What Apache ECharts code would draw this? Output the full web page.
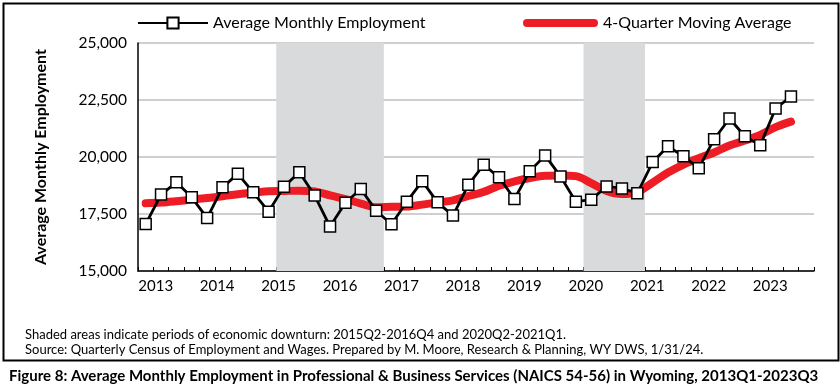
<!DOCTYPE html>
<html>
<head>
<meta charset="utf-8">
<script src="https://cdn.jsdelivr.net/npm/echarts@6/dist/echarts.min.js"></script>
<style>
html,body{margin:0;padding:0;background:#fff;}
#c{width:840px;height:385px;}
</style>
</head>
<body>
<div id="c"></div>
<script>
// ---- data ----
var years = ['2013','2014','2015','2016','2017','2018','2019','2020','2021','2022','2023'];
var quarters = ['Q1','Q2','Q3','Q4'];
var employment = [
  17060, 18350, 18890, 18230,
  17320, 18670, 19260, 18450,
  17600, 18700, 19330, 18310,
  16950, 17990, 18600, 17640,
  17050, 18040, 18940, 18010,
  17430, 18780, 19660, 19110,
  18160, 19380, 20070, 19150,
  18040, 18130, 18710, 18620,
  18410, 19780, 20470, 20030,
  19510, 20780, 21690, 20910,
  20510, 22130, 22650
];
var movingAvg = [
  17970, 18000, 18060, 18130,
  18200, 18280, 18370, 18430,
  18500, 18510, 18520, 18490,
  18320, 18150, 17960, 17800,
  17820, 17830, 17910, 18010,
  18100, 18290, 18470, 18740,
  18930, 19080, 19180, 19190,
  19160, 18850, 18510, 18380,
  18470, 18880, 19320, 19670,
  19950, 20200, 20500, 20720,
  20970, 21310, 21550
];
var downturns = [['2015Q2','2016Q4'], ['2020Q2','2021Q1']];
var yTicks = [15000, 17500, 20000, 22500, 25000];
var seriesNames = ['Average Monthly Employment', '4-Quarter Moving Average'];
var yAxisTitle = 'Average Monthly Employment';
var noteLines = [
  'Shaded areas indicate periods of economic downturn: 2015Q2-2016Q4 and 2020Q2-2021Q1.',
  'Source: Quarterly Census of Employment and Wages. Prepared by M. Moore, Research & Planning, WY DWS, 1/31/24.'
];
var figureTitle = 'Figure 8: Average Monthly Employment in Professional & Business Services (NAICS 54-56) in Wyoming, 2013Q1-2023Q3';

// ---- build ----
var categories = [];
years.forEach(function(y){ quarters.forEach(function(q){ categories.push(y + q); }); });
// shaded bands expressed in category-band units on a hidden linear axis
var bands = downturns.map(function(d){
  return [{xAxis: categories.indexOf(d[0])}, {xAxis: categories.indexOf(d[1]) + 1}];
});

var FONT = 'Lato';
var GRAY = '#d9dadc';
var RED = '#ee1c24';
var chart = echarts.init(document.getElementById('c'), null, {renderer:'canvas'});
chart.setOption({
  animation: false,
  backgroundColor: '#fff',
  textStyle: {fontFamily: FONT},
  grid: {left: 138, right: 26, top: 43, bottom: 114, containLabel: false},
  legend: [
    {left: 132, top: 10, itemWidth: 70, itemHeight: 14, itemGap: 0,
     data: [seriesNames[0]], textStyle: {fontFamily: FONT, fontSize: 16, color: '#000'}},
    {left: 518, top: 10, itemWidth: 75, itemHeight: 8, itemGap: 0,
     data: [{name: seriesNames[1],
             icon: 'path://M4,0 L71,0 A4,4 0 0 1 71,8 L4,8 A4,4 0 0 1 4,0 Z'}],
     itemStyle: {color: RED, borderWidth: 0},
     lineStyle: {width: 0, opacity: 0},
     textStyle: {fontFamily: FONT, fontSize: 16, color: '#000'}}
  ],
  xAxis: [{
    type: 'category',
    data: categories,
    boundaryGap: true,
    axisLine: {show: true, lineStyle: {color: '#000', width: 1.5}},
    axisTick: {show: true, inside: true, length: 4, interval: 0, lineStyle: {color: '#000', width: 1}},
    axisLabel: {
      interval: function(i){ return i % 4 === 0; },
      formatter: function(v){ return v.slice(0,4); },
      fontFamily: FONT, fontSize: 15, color: '#000', margin: 8,
      padding: [0,0,0,20]
    },
    splitLine: {show: false}
  }, {
    type: 'value', min: 0, max: categories.length, show: false
  }],
  yAxis: {
    type: 'value',
    min: yTicks[0], max: yTicks[yTicks.length-1], interval: 2500,
    name: yAxisTitle, nameLocation: 'middle', nameGap: 89,
    nameTextStyle: {fontFamily: FONT, fontSize: 16, fontWeight: 'bold', color: '#000'},
    axisLine: {show: true, lineStyle: {color: '#000', width: 1.5}},
    axisTick: {show: false},
    axisLabel: {
      fontFamily: FONT, fontSize: 15.5, color: '#000', margin: 11,
      formatter: function(v){ return v.toLocaleString('en-US'); }
    },
    splitLine: {show: true, lineStyle: {color: '#bfbfbf', width: 1.5}}
  },
  series: [
    {
      name: 'downturn', type: 'line', xAxisIndex: 1, data: [], silent: true, z: 1,
      markArea: {silent: true, itemStyle: {color: GRAY}, data: bands}
    },
    {
      name: seriesNames[1], type: 'line', data: movingAvg, smooth: 0.35,
      showSymbol: false, symbol: 'none',
      lineStyle: {color: RED, width: 8, cap: 'round', join: 'round'},
      itemStyle: {color: RED}, z: 2
    },
    {
      name: seriesNames[0], type: 'line', data: employment,
      symbol: 'rect', symbolSize: 11, showSymbol: true, showAllSymbol: true,
      lineStyle: {color: '#000', width: 2.8},
      itemStyle: {color: '#fff', borderColor: '#000', borderWidth: 1.5}, z: 3
    }
  ],
  graphic: [
    {type: 'rect', left: 1, top: 1, shape: {width: 835, height: 357},
     style: {fill: 'none', stroke: '#000', lineWidth: 2}, silent: true},
    {type: 'text', left: 25, top: 328, style: {text: noteLines[0], font: '13px Lato', fill: '#000'}},
    {type: 'text', left: 25, top: 343, style: {text: noteLines[1], font: '13px Lato', fill: '#000'}},
    {type: 'text', left: 9, top: 369, style: {text: figureTitle, font: 'bold 15px Lato', fill: '#000'}}
  ]
});
</script>
</body>
</html>
